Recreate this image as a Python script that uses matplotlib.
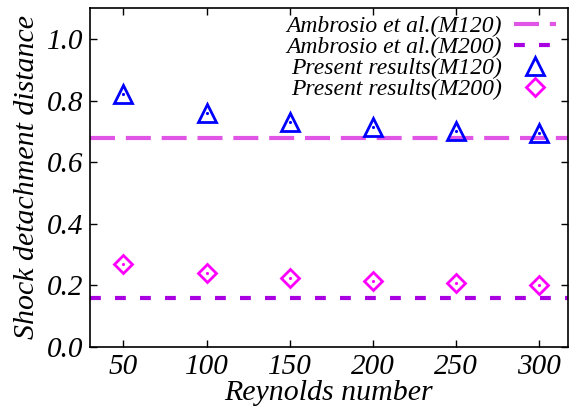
import matplotlib
matplotlib.use("Agg")
import matplotlib.pyplot as plt
from matplotlib.lines import Line2D

plt.rcParams['font.family'] = ['Liberation Serif', 'DejaVu Serif']
plt.rcParams['font.style'] = 'italic'

# Reynolds numbers and measured shock standoff
reynolds = [50, 100, 150, 200, 250, 300]
present_m120 = [0.821, 0.760, 0.730, 0.714, 0.700, 0.695]
present_m200 = [0.269, 0.240, 0.223, 0.215, 0.208, 0.201]

# Reference values (Ambrosio et al.)
ambrosio_m120 = 0.678
ambrosio_m200 = 0.159

fig = plt.figure(figsize=(5.7, 4.08), dpi=100)
ax = fig.add_axes([0.158, 0.150, 0.838, 0.830])

c120 = '#e055e5'
c200 = '#a800e0'

ax.axhline(ambrosio_m120, color=c120, lw=3, dashes=(6, 2.6))
ax.axhline(ambrosio_m200, color=c200, lw=3, dashes=(2.6, 3.4))

ax.plot(reynolds, present_m120, ls='none', marker='^', ms=13, mfc='none',
        mec='#0000ff', mew=2)
ax.plot(reynolds, present_m120, ls='none', marker='.', ms=2.5, color='#0000ff')
ax.plot(reynolds, present_m200, ls='none', marker='D', ms=9.5, mfc='none',
        mec='#ff00ff', mew=2)
ax.plot(reynolds, present_m200, ls='none', marker='.', ms=2.5, color='#ff00ff')

ax.set_xlim(30, 317)
ax.set_ylim(0, 1.1)
ax.set_xticks(reynolds)
ax.set_yticks([0.0, 0.2, 0.4, 0.6, 0.8, 1.0])
ax.set_yticklabels(['0.0', '0.2', '0.4', '0.6', '0.8', '1.0'])
ax.tick_params(direction='in', top=True, right=True, length=5, width=1,
               labelsize=21, pad=5)
for s in ax.spines.values():
    s.set_linewidth(1.2)

ax.set_xlabel('Reynolds number', fontsize=21.5, labelpad=0)
ax.set_ylabel('Shock detachment distance', fontsize=21.5, labelpad=5)

handles = [
    Line2D([], [], color=c120, lw=3, dashes=(6, 2.6)),
    Line2D([], [], color=c200, lw=3, dashes=(2.6, 3.4)),
    Line2D([], [], ls='none', marker='^', ms=13, mfc='none', mec='#0000ff', mew=2),
    Line2D([], [], ls='none', marker='D', ms=9.5, mfc='none', mec='#ff00ff', mew=2),
]
labels = ['Ambrosio et al.(M120)', 'Ambrosio et al.(M200)',
          'Present results(M120)', 'Present results(M200)']
ax.legend(handles, labels, loc='upper right', frameon=False, markerfirst=False,
          fontsize=17, handlelength=1.8, handletextpad=0.5, labelspacing=-0.02,
          borderaxespad=0.2, bbox_to_anchor=(1.006, 1.02))

fig.savefig('out.png', dpi=100)
